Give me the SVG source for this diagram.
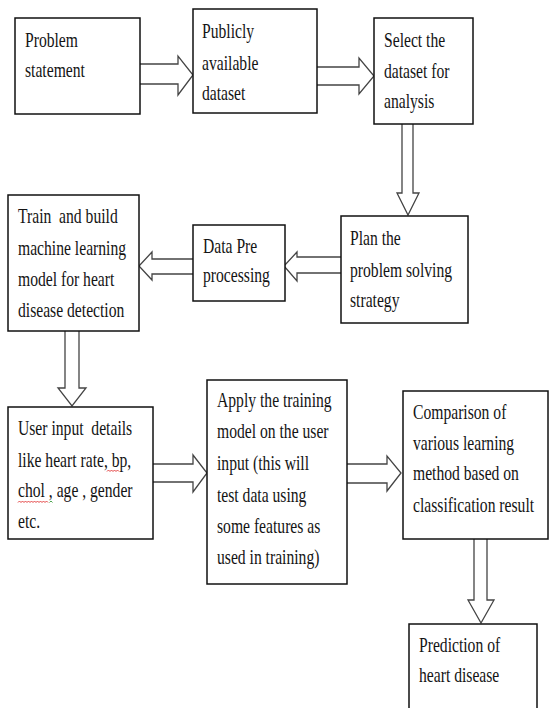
<svg xmlns="http://www.w3.org/2000/svg" width="550" height="708" viewBox="0 0 550 708">
<style>
.box{fill:#fff;stroke:#111;stroke-width:1.5}
.arr{fill:#fff;stroke:#444;stroke-width:1.3;stroke-linejoin:miter}
.t{font-family:"Liberation Serif","Times New Roman",serif;font-size:21px;fill:#141414;white-space:pre}
.sq{fill:none;stroke:#e03030;stroke-width:0.9}
</style>
<rect width="550" height="708" fill="#fff"/>
<g id="connectors">
<path class="arr" d="M140,64 H178 V56 L193,75 L178,95 V84 H140"/>
<path class="arr" d="M317,67 H359 V58 L374,76 L359,94 V85 H317"/>
<path class="arr" d="M402,124 V193 H397 L408,215 L419,193 H413 V124"/>
<path class="arr" d="M341,257 H297 V252 L284,266 L297,281 V273 H341"/>
<path class="arr" d="M193,259 H152 V252 L139,266 L152,280 V274 H193"/>
<path class="arr" d="M65,331 V388 H58 L72,406 L86,388 H79 V331"/>
<path class="arr" d="M153,464 H193 V455 L207,473 L193,492 V482 H153"/>
<path class="arr" d="M347,464 H387 V456 L401,473 L387,491 V483 H347"/>
<path class="arr" d="M474,539 V600 H468 L481,623 L494,600 H487 V539"/>
</g>
<g id="n1">
<rect class="box" x="15" y="18" width="125" height="96"/>
<text class="t" transform="matrix(0.745 0 0 1 25 0)"><tspan x="0" y="47">Problem</tspan><tspan x="0" y="77">statement</tspan></text>
</g>
<g id="n2">
<rect class="box" x="193" y="9" width="124" height="104"/>
<text class="t" transform="matrix(0.745 0 0 1 202 0)"><tspan x="0" y="38">Publicly</tspan><tspan x="0" y="70">available</tspan><tspan x="0" y="100">dataset</tspan></text>
</g>
<g id="n3">
<rect class="box" x="374" y="18" width="99" height="106"/>
<text class="t" transform="matrix(0.745 0 0 1 384 0)"><tspan x="0" y="47">Select the</tspan><tspan x="0" y="78">dataset for</tspan><tspan x="0" y="108">analysis</tspan></text>
</g>
<g id="n4">
<rect class="box" x="341" y="216" width="127" height="107"/>
<text class="t" transform="matrix(0.745 0 0 1 350 0)"><tspan x="0" y="245">Plan the</tspan><tspan x="0" y="277">problem solving</tspan><tspan x="0" y="307">strategy</tspan></text>
</g>
<g id="n5">
<rect class="box" x="193" y="225" width="92" height="76"/>
<text class="t" transform="matrix(0.745 0 0 1 203 0)"><tspan x="0" y="253">Data Pre</tspan><tspan x="0" y="282">processing</tspan></text>
</g>
<g id="n6">
<rect class="box" x="8" y="195" width="131" height="136"/>
<text class="t" transform="matrix(0.745 0 0 1 18 0)"><tspan x="0" y="223">Train  and build</tspan><tspan x="0" y="255">machine learning</tspan><tspan x="0" y="286">model for heart</tspan><tspan x="0" y="317">disease detection</tspan></text>
</g>
<g id="n7">
<rect class="box" x="8" y="407" width="145" height="132"/>
<text class="t" transform="matrix(0.745 0 0 1 18 0)"><tspan x="0" y="435">User input  details</tspan><tspan x="0" y="467">like heart rate, bp,</tspan><tspan x="0" y="497">chol , age , gender</tspan><tspan x="0" y="528">etc.</tspan></text>
<path class="sq" d="M107,471.5 l1.5,-1.5 l1.5,1.5 l1.5,-1.5 l1.5,1.5 l1.5,-1.5 l1.5,1.5 l1.5,-1.5 l1.5,1.5"/>
<path class="sq" d="M18,502.5 l1.5,-1.5 l1.5,1.5 l1.5,-1.5 l1.5,1.5 l1.5,-1.5 l1.5,1.5 l1.5,-1.5 l1.5,1.5 l1.5,-1.5 l1.5,1.5 l1.5,-1.5 l1.5,1.5 l1.5,-1.5 l1.5,1.5 l1.5,-1.5 l1.5,1.5 l1.5,-1.5 l1.5,1.5 l1.5,-1.5 l1.5,1.5"/>
<path class="sq" style="stroke:#3a9a3a" d="M49.5,502.5 l1.5,-1.5 l1.5,1.5"/>
</g>
<g id="n8">
<rect class="box" x="207" y="380" width="140" height="204"/>
<text class="t" transform="matrix(0.745 0 0 1 217 0)"><tspan x="0" y="407">Apply the training</tspan><tspan x="0" y="438">model on the user</tspan><tspan x="0" y="470">input (this will</tspan><tspan x="0" y="502">test data using</tspan><tspan x="0" y="533">some features as</tspan><tspan x="0" y="564">used in training)</tspan></text>
</g>
<g id="n9">
<rect class="box" x="403" y="391" width="145" height="148"/>
<text class="t" transform="matrix(0.745 0 0 1 413 0)"><tspan x="0" y="419">Comparison of</tspan><tspan x="0" y="450">various learning</tspan><tspan x="0" y="480">method based on</tspan><tspan x="0" y="512">classification result</tspan></text>
</g>
<g id="n10">
<rect class="box" x="409" y="624" width="128" height="100"/>
<text class="t" transform="matrix(0.745 0 0 1 419 0)"><tspan x="0" y="652">Prediction of</tspan><tspan x="0" y="682">heart disease</tspan></text>
</g>
</svg>
